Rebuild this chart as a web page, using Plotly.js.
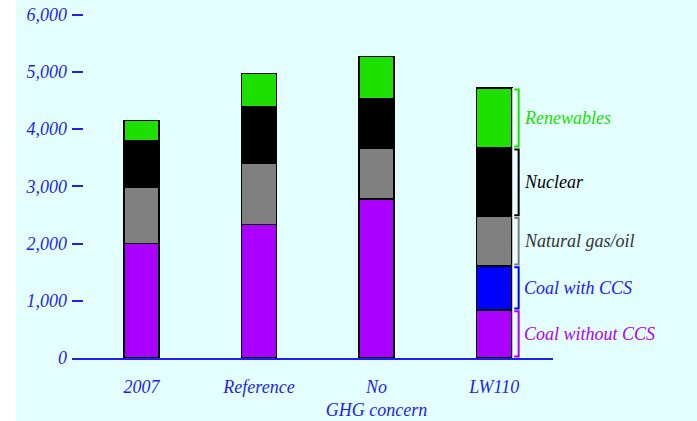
<!DOCTYPE html>
<html>
<head>
<meta charset="utf-8">
<script src="https://cdn.plot.ly/plotly-3.0.1.min.js"></script>
<style>html,body{margin:0;padding:0;background:#e3ffff;}#chart{width:697px;height:421px;}</style>
</head>
<body>
<div id="chart"></div>
<script>
const categories = ["2007", "Reference", "No<br>GHG concern", "LW110"];
const seriesNames = ["Coal without CCS", "Coal with CCS", "Natural gas/oil", "Nuclear", "Renewables"];
const coalWithoutCCS = [2000, 2330, 2780, 840];
const coalWithCCS = [0, 0, 0, 770];
const naturalGasOil = [980, 1080, 880, 860];
const nuclear = [820, 980, 870, 1200];
const renewables = [350, 580, 740, 1050];
const yTickValues = [0, 1000, 2000, 3000, 4000, 5000, 6000];
const yTickLabels = ["0", "1,000", "2,000", "3,000", "4,000", "5,000", "6,000"];

const seriesValues = [coalWithoutCCS, coalWithCCS, naturalGasOil, nuclear, renewables];
const fillColors = ["#aa00ff", "#0000ff", "#808080", "#000000", "#1ee000"];
const labelColors = ["#b000ff", "#1a1aff", "#333333", "#000000", "#22dd00"];

const fontFamily = "Liberation Serif, Times New Roman, serif";
const blue = "#1f1fee";

const traces = seriesValues.map((vals, i) => ({
  type: "bar",
  name: seriesNames[i],
  x: categories,
  y: vals,
  width: 0.3,
  marker: { color: fillColors[i], line: { color: "#000000", width: 1.5 } },
  hoverinfo: "y+name"
}));

const last = categories.length - 1;
const shapes = [];
const annotations = [];
let base = 0;
seriesValues.forEach((vals, i) => {
  const v = vals[last];
  const lo = base, hi = base + v;
  base = hi;
  const pad = 25;
  shapes.push({
    type: "path", xref: "x", yref: "y",
    path: `M ${last + 0.157} ${hi - pad} L ${last + 0.208} ${hi - pad} L ${last + 0.208} ${lo + pad} L ${last + 0.157} ${lo + pad}`,
    line: { color: fillColors[i], width: 2 }
  });
  annotations.push({
    xref: "x", yref: "y", x: last + 0.235, y: (lo + hi) / 2,
    xanchor: "left", yanchor: "middle", showarrow: false,
    text: seriesNames[i],
    font: { family: fontFamily, size: 18, style: "italic", color: labelColors[i] }
  });
});
shapes.push({
  type: "line", xref: "x", yref: "y",
  x0: last + 0.162, x1: last + 0.162, y0: 0, y1: base,
  line: { color: "#ffffff", width: 2 }
});
shapes.push({
  type: "rect", xref: "paper", yref: "paper", layer: "below",
  x0: -72 / 481, x1: -56 / 481, y0: -63 / 349, y1: 1 + 9 / 349,
  fillcolor: "#ffffff", line: { width: 0 }
});

const layout = {
  width: 697, height: 421,
  margin: { l: 72, r: 144, t: 9, b: 63 },
  paper_bgcolor: "#e3ffff",
  plot_bgcolor: "#e3ffff",
  barmode: "stack",
  showlegend: false,
  xaxis: {
    type: "category",
    range: [-0.59, 3.5],
    showline: true, linecolor: blue, linewidth: 2,
    ticks: "", showgrid: false, zeroline: false,
    ticklabelstandoff: 11,
    tickfont: { family: fontFamily, size: 18, style: "italic", color: blue }
  },
  yaxis: {
    range: [0, 6100],
    tickvals: yTickValues, ticktext: yTickLabels,
    ticks: "inside", ticklen: 11, tickwidth: 2, tickcolor: blue,
    ticklabelstandoff: 4,
    showline: false, showgrid: false, zeroline: false,
    tickfont: { family: fontFamily, size: 18, style: "italic", color: blue }
  },
  shapes: shapes,
  annotations: annotations
};

Plotly.newPlot("chart", traces, layout, { displayModeBar: false, staticPlot: true });
</script>
</body>
</html>
